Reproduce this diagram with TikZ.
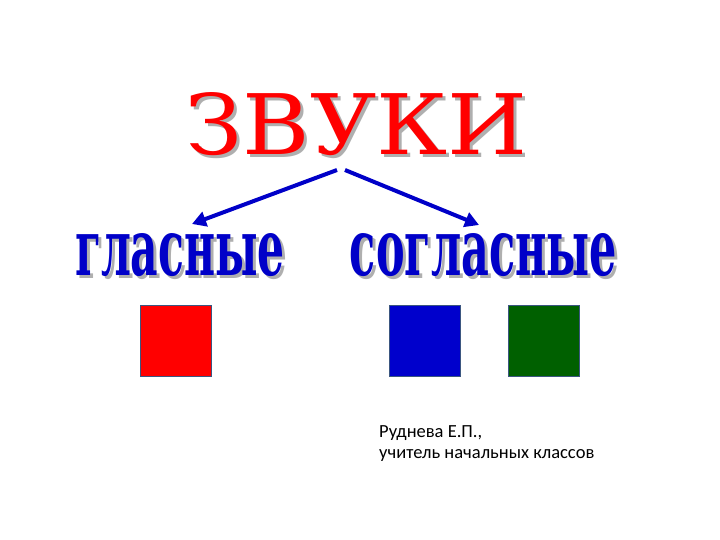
\documentclass[tikz,border=0pt]{standalone}
\usepackage{graphicx}
\usepackage{fontspec}
\setmainfont{DejaVu Serif}
\newfontfamily\authfont{Carlito}
\usetikzlibrary{arrows.meta}
\definecolor{zred}{RGB}{255,0,0}
\definecolor{zblue}{RGB}{0,0,200}
\definecolor{sqblue}{RGB}{0,0,204}
\definecolor{sqgreen}{RGB}{0,96,0}
\definecolor{sqborder}{RGB}{59,86,128}
\definecolor{shadowgray}{RGB}{175,175,175}
\newcommand{\titletext}{\resizebox{342pt}{62pt}{\rmfamily ЗВУКИ}}
\newcommand{\gltext}{\resizebox{210pt}{42pt}{\rmfamily\bfseries гласные}}
\newcommand{\sogtext}{\resizebox{267pt}{42pt}{\rmfamily\bfseries согласные}}
\tikzset{
  bigtext/.style={anchor=base, inner sep=0pt},
  shad/.style={text=shadowgray},
  sq/.style={draw=sqborder, line width=1.5pt, minimum size=71pt, inner sep=0pt, anchor=north west},
  arr/.style={draw=zblue, line width=4pt, -{Triangle[length=14pt,width=15pt]}},
  auth/.style={font=\authfont\fontsize{18.5}{21}\selectfont, anchor=north west, inner sep=0pt, align=left}
}
\begin{document}
\begin{tikzpicture}[x=1pt,y=-1pt]
\useasboundingbox[fill=white] (0,0) rectangle (720,540);
% title
\node[bigtext, shad] (titleS) at (359.5,158) {\titletext};
\node[bigtext, text=zred] (title) at (356.5,155) {\titletext};
% subtitles
\node[bigtext, shad] (glS) at (183,278) {\gltext};
\node[bigtext, text=zblue] (gl) at (180,275) {\gltext};
\node[bigtext, shad] (sogS) at (486.5,278) {\sogtext};
\node[bigtext, text=zblue] (sog) at (483.5,275) {\sogtext};
% arrows
\coordinate (a1) at (337,170);
\coordinate (a2) at (345,170);
\coordinate (e1) at (192,224);
\coordinate (e2) at (479,225);
\draw[arr] (a1) -- (e1);
\draw[arr] (a2) -- (e2);
% squares
\node[sq, fill=zred] (r) at (139.5,304.5) {};
\node[sq, fill=sqblue] (b) at (388.5,304.5) {};
\node[sq, fill=sqgreen] (g) at (507.5,304.5) {};
% author
\node[auth] (author) at (379,425) {Руднева Е.П.,\\учитель начальных классов};
\end{tikzpicture}
\end{document}
